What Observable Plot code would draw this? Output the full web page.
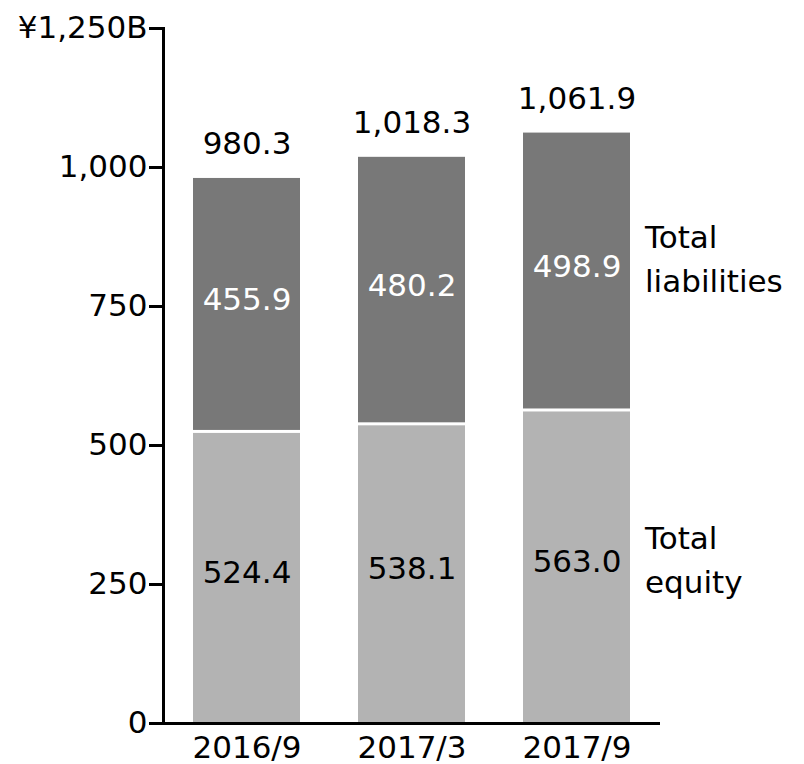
<!DOCTYPE html>
<html>
<head>
<meta charset="utf-8">
<script src="https://cdn.jsdelivr.net/npm/d3@7"></script>
<script src="https://cdn.jsdelivr.net/npm/@observablehq/plot@0.6"></script>
<style>
  html, body { margin: 0; padding: 0; background: #fff; }
  #chart svg { font-family: "DejaVu Sans", Verdana, sans-serif; }
</style>
</head>
<body>
<div id="chart"></div>
<script>
const periods = ["2016/9", "2017/3", "2017/9"];
const equity = [524.4, 538.1, 563.0];
const liabilities = [455.9, 480.2, 498.9];
const totals = [980.3, 1018.3, 1061.9];
const yTicks = [0, 250, 500, 750, 1000, 1250];
const seriesNames = ["Total equity", "Total liabilities"];
const seriesLabels = ["Total\nequity", "Total\nliabilities"];
const colors = ["#b3b3b3", "#787878"];

const rows = [];
periods.forEach((p, i) => {
  rows.push({period: p, series: seriesNames[0], y1: 0, y2: equity[i], value: equity[i]});
  rows.push({period: p, series: seriesNames[1], y1: equity[i], y2: equity[i] + liabilities[i], value: liabilities[i]});
});
const totalRows = periods.map((p, i) => ({period: p, total: totals[i]}));
const last = periods.length - 1;
const sideRows = [
  {period: periods[last], y: equity[last] / 2, label: seriesLabels[0], dy: -10},
  {period: periods[last], y: equity[last] + liabilities[last] / 2, label: seriesLabels[1], dy: -16}
];

const fmt1 = d3.format(",.1f");
const fmtTick = d => d === 1250 ? "¥1,250B" : d3.format(",")(d);
const FS = 31;

const chart = Plot.plot({
  width: 804,
  height: 764,
  marginLeft: 163,
  marginRight: 144,
  marginTop: 28,
  marginBottom: 41,
  style: {fontSize: FS + "px", fontFamily: "DejaVu Sans, Verdana, sans-serif", color: "#000", background: "#fff"},
  x: {domain: periods, paddingInner: 0.35, paddingOuter: 0.18, axis: null},
  y: {domain: [0, 1250], axis: null},
  color: {domain: seriesNames, range: colors},
  marks: [
    Plot.rectY(rows.filter(d => d.series === seriesNames[0]), {x: "period", y1: "y1", y2: "y2", fill: "series", insetTop: 1.5}),
    Plot.rectY(rows.filter(d => d.series === seriesNames[1]), {x: "period", y1: "y1", y2: "y2", fill: "series", insetBottom: 1.5}),
    Plot.text(rows.filter(d => d.series === seriesNames[0]), {x: "period", y: d => (d.y1 + d.y2) / 2, text: d => fmt1(d.value), fill: "#000", fontSize: FS, dy: -5}),
    Plot.text(rows.filter(d => d.series === seriesNames[1]), {x: "period", y: d => (d.y1 + d.y2) / 2, text: d => fmt1(d.value), fill: "#fff", fontSize: FS, dy: -5}),
    Plot.text(totalRows, {x: "period", y: "total", text: d => fmt1(d.total), fill: "#000", fontSize: FS, dy: -34}),
    Plot.text(sideRows.slice(0, 1), {x: "period", y: "y", text: "label", textAnchor: "start", dx: 68, dy: sideRows[0].dy, lineHeight: 1.42, fill: "#000", fontSize: FS}),
    Plot.text(sideRows.slice(1), {x: "period", y: "y", text: "label", textAnchor: "start", dx: 68, dy: sideRows[1].dy, lineHeight: 1.42, fill: "#000", fontSize: FS}),
    Plot.axisY({ticks: yTicks, tickFormat: fmtTick, tickSize: 14, tickPadding: 2, strokeWidth: 3, fontSize: FS, label: null}),
    Plot.frame({anchor: "left", stroke: "#000", strokeWidth: 3}),
    Plot.axisX({tickSize: 0, tickPadding: 12, fontSize: FS, label: null}),
    Plot.ruleY([0], {stroke: "#000", strokeWidth: 3})
  ]
});
document.getElementById("chart").appendChild(chart);
</script>
</body>
</html>
